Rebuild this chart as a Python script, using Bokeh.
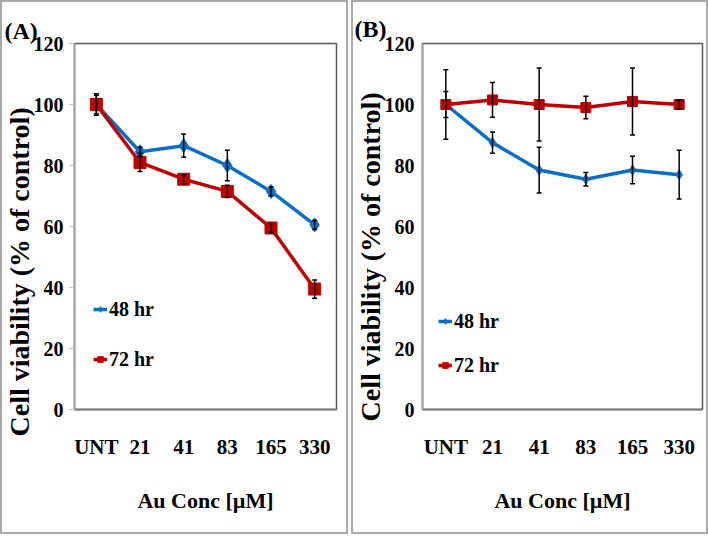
from bokeh.plotting import figure
from bokeh.models import (ColumnDataSource, FactorRange, Whisker, TeeHead, Title,
                          Legend, LegendItem, FixedTicker)
from bokeh.layouts import row
from bokeh.embed import file_html
from bokeh.resources import INLINE

# ---------------- data ----------------
categories = ["UNT", "21", "41", "83", "165", "330"]
y_ticks = [0, 20, 40, 60, 80, 100, 120]

a_48 = [100, 84.5, 86.5, 80, 71.5, 60.5]
a_48_err = [3.5, 1.5, 3.8, 5.0, 1.5, 1.5]
a_72 = [100, 81, 75.5, 71.5, 59.5, 39.5]
a_72_err = [3.0, 3.0, 1.5, 2.0, 1.5, 3.0]

b_48 = [100, 87.5, 78.5, 75.5, 78.5, 77]
b_48_err = [4.3, 3.5, 7.5, 2.2, 4.5, 8.0]
b_72 = [100, 101.5, 100, 99, 101, 100]
b_72_err = [11.4, 5.7, 12.0, 3.7, 11.0, 1.5]

BLUE = "#0a6fc4"
RED = "#c00000"
FONT = "Liberation Serif"


def make_panel(tag, s48, e48, s72, e72, width, height, mb_left, mb_right, mb_top,
               mb_bottom, tick_out, tick_standoff, m48, m72, tag_offset, tag_standoff,
               title_offset, legend_xy, legend_spacing):
    p = figure(x_range=FactorRange(*categories, range_padding=0), y_range=(0, 120),
               width=width, height=height, output_backend="svg", toolbar_location=None,
               min_border_left=mb_left, min_border_right=mb_right,
               min_border_top=mb_top, min_border_bottom=mb_bottom)
    p.styles = {"border": "2px solid #a9a9a9"}
    p.xgrid.visible = False
    p.ygrid.visible = False
    p.outline_line_color = "#595959"
    p.outline_line_width = 1.5

    # panel tag "(A)" / "(B)"
    p.title.text = tag
    p.title.align = "left"
    p.title.offset = tag_offset
    p.title.standoff = tag_standoff
    p.title.text_font = FONT
    p.title.text_font_style = "bold"
    p.title.text_font_size = "24px"
    p.title.text_color = "black"

    src48 = ColumnDataSource(dict(x=categories, y=s48,
                                  up=[v + e for v, e in zip(s48, e48)],
                                  lo=[v - e for v, e in zip(s48, e48)]))
    src72 = ColumnDataSource(dict(x=categories, y=s72,
                                  up=[v + e for v, e in zip(s72, e72)],
                                  lo=[v - e for v, e in zip(s72, e72)]))

    l48 = p.line("x", "y", source=src48, line_color=BLUE, line_width=3.5)
    m48r = p.scatter("x", "y", source=src48, marker="diamond", size=m48,
                     fill_color=BLUE, line_color=BLUE)
    l72 = p.line("x", "y", source=src72, line_color=RED, line_width=3.5)
    m72r = p.scatter("x", "y", source=src72, marker="square", size=m72,
                     fill_color=RED, line_color=RED)

    for src in (src48, src72):
        w = Whisker(source=src, base="x", upper="up", lower="lo",
                    line_color="black", line_width=1.5, level="overlay",
                    upper_head=TeeHead(size=5, line_color="black", line_width=1.5),
                    lower_head=TeeHead(size=5, line_color="black", line_width=1.5))
        p.add_layout(w)

    # axes
    p.yaxis.ticker = FixedTicker(ticks=y_ticks)
    p.yaxis.minor_tick_line_color = None
    p.yaxis.major_tick_in = 0
    p.yaxis.major_tick_out = tick_out
    p.yaxis.major_tick_line_color = "#bfbfbf"
    p.yaxis.axis_line_color = "#a6a6a6"
    p.yaxis.axis_line_width = 2
    p.yaxis.major_label_standoff = tick_standoff
    p.yaxis.major_label_text_font = FONT
    p.yaxis.major_label_text_font_style = "bold"
    p.yaxis.major_label_text_font_size = "20px"
    p.yaxis.major_label_text_color = "black"

    p.xaxis.major_tick_in = 0
    p.xaxis.major_tick_out = 0
    p.xaxis.minor_tick_line_color = None
    p.xaxis.axis_line_color = "#7f7f7f"
    p.xaxis.axis_line_width = 2
    p.xaxis.major_label_standoff = 25
    p.xaxis.major_label_text_font = FONT
    p.xaxis.major_label_text_font_style = "bold"
    p.xaxis.major_label_text_font_size = "21px"
    p.xaxis.major_label_text_color = "black"
    p.xaxis.axis_label = "Au Conc [\u00b5M]"
    p.xaxis.axis_label_standoff = 26
    p.xaxis.axis_label_text_font = FONT
    p.xaxis.axis_label_text_font_style = "bold"
    p.xaxis.axis_label_text_font_size = "22px"
    p.xaxis.axis_label_text_color = "black"

    # y-axis title (starts below the frame bottom and runs upward)
    p.add_layout(Title(text="Cell viability (% of control)", align="left",
                       offset=title_offset, standoff=-8,
                       text_font=FONT, text_font_style="bold",
                       text_font_size="28px", text_color="black"), "left")

    legend = Legend(items=[LegendItem(label="48 hr", renderers=[l48, m48r]),
                           LegendItem(label="72 hr", renderers=[l72, m72r])],
                    location=legend_xy, orientation="vertical",
                    glyph_width=14, glyph_height=24, label_height=24,
                    label_standoff=2, spacing=legend_spacing, padding=0, margin=0,
                    border_line_color=None, background_fill_alpha=0,
                    label_text_font=FONT, label_text_font_style="bold",
                    label_text_font_size="20px", label_text_color="black")
    p.add_layout(legend)
    return p


pA = make_panel("(A)", a_48, a_48_err, a_72, a_72_err,
                width=348, height=534, mb_left=72, mb_right=14, mb_top=37,
                mb_bottom=127, tick_out=5, tick_standoff=6, m48=14, m72=12,
                tag_offset=-70, tag_standoff=0, title_offset=-27,
                legend_xy=(19, 38), legend_spacing=26)

pB = make_panel("(B)", b_48, b_48_err, b_72, b_72_err,
                width=357, height=534, mb_left=69, mb_right=8, mb_top=41,
                mb_bottom=117, tick_out=0, tick_standoff=8, m48=10, m72=10,
                tag_offset=-68, tag_standoff=4, title_offset=-12,
                legend_xy=(16, 32), legend_spacing=20)

layout = row(pA, pB, spacing=3)
open("out.html", "w").write(file_html(layout, INLINE))
